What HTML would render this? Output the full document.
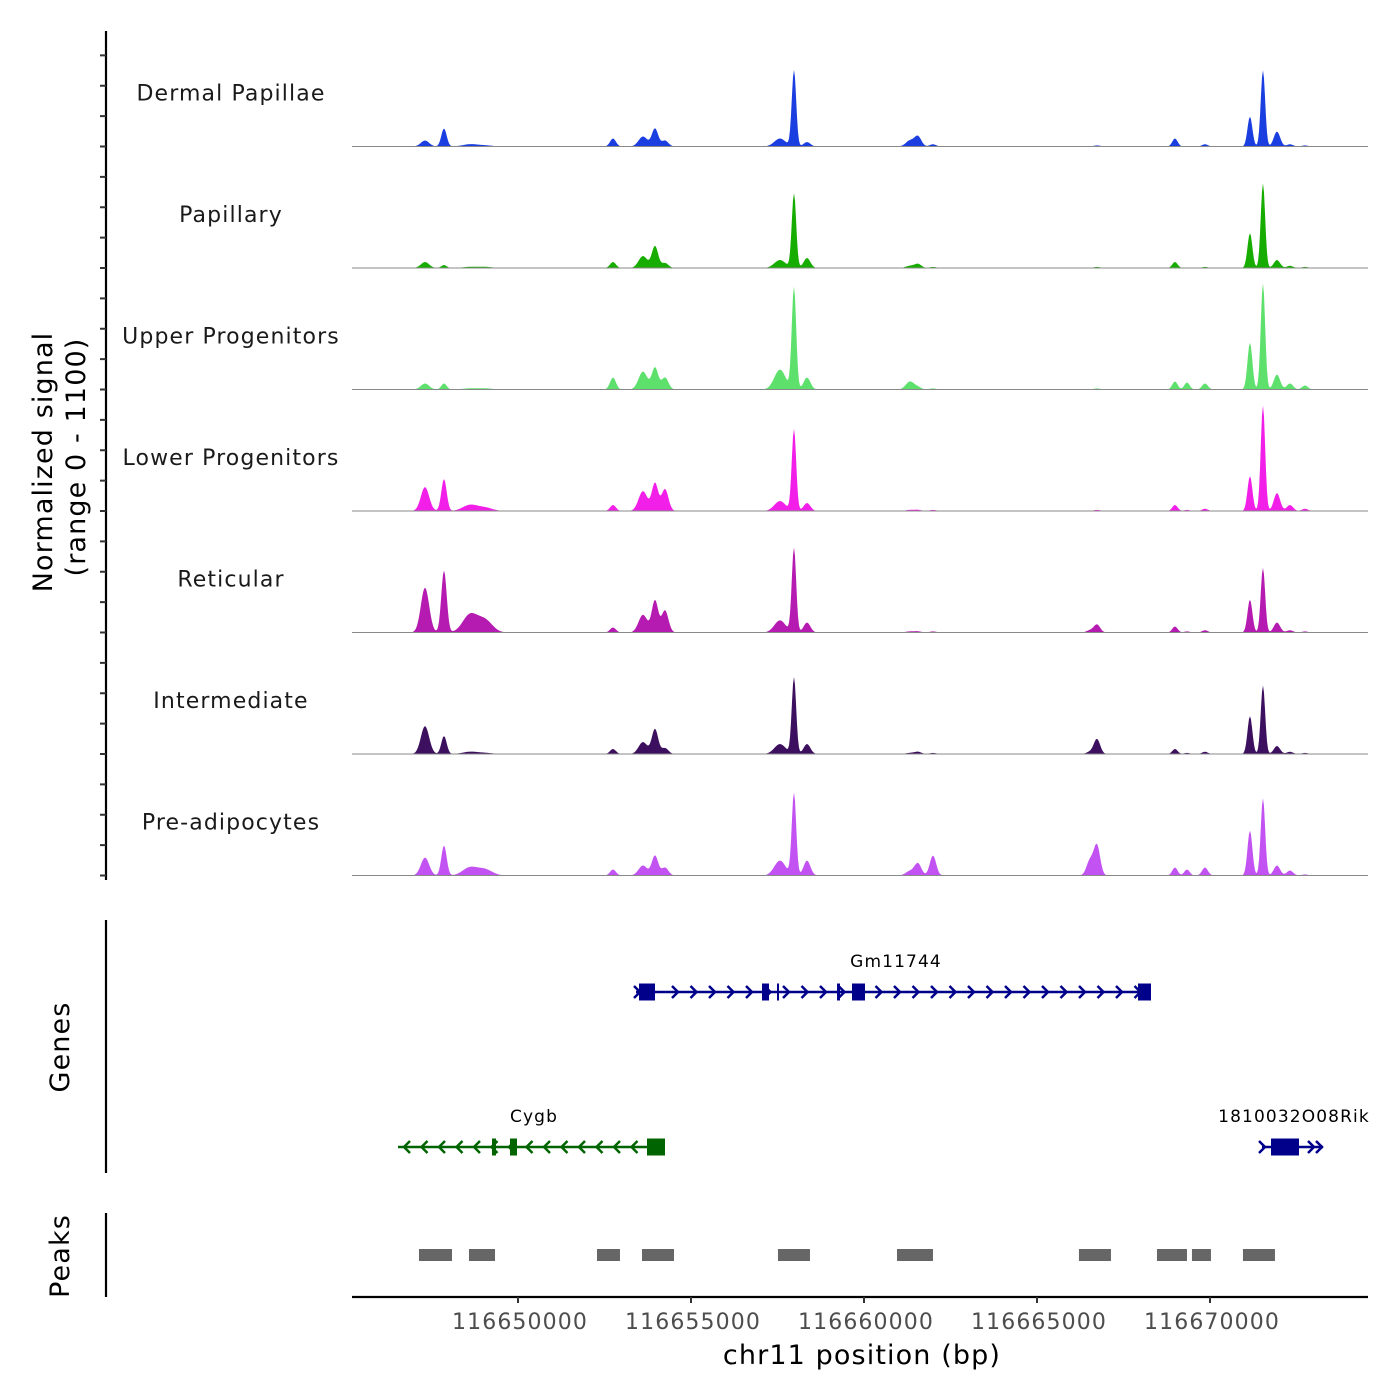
<!DOCTYPE html>
<html><head><meta charset="utf-8"><style>
html,body{margin:0;padding:0;background:#fff;}
svg{display:block;font-family:"DejaVu Sans","Liberation Sans",sans-serif;letter-spacing:0.07em;}
</style></head><body>
<svg id="chart" width="1400" height="1400" viewBox="0 0 1400 1400" xmlns="http://www.w3.org/2000/svg">
<g id="tracks"></g>
<g id="leftaxis"></g>
<text transform="translate(52,462) rotate(-90)" text-anchor="middle" font-size="27" fill="#000">Normalized signal</text>
<text transform="translate(85,457) rotate(-90)" text-anchor="middle" font-size="27" fill="#000">(range 0 - 1100)</text>
<g id="genes"></g>
<line x1="106" y1="920" x2="106" y2="1173" stroke="#000" stroke-width="2.2"/>
<text transform="translate(69,1047) rotate(-90)" text-anchor="middle" font-size="27">Genes</text>
<g id="peaks"></g>
<line x1="106" y1="1213" x2="106" y2="1297" stroke="#000" stroke-width="2.2"/>
<text transform="translate(69,1256) rotate(-90)" text-anchor="middle" font-size="27">Peaks</text>
<g id="xaxis"></g>
<text x="862" y="1364" text-anchor="middle" font-size="27">chr11 position (bp)</text>
</svg>
<script>
const trackNames = ["Dermal Papillae","Papillary","Upper Progenitors","Lower Progenitors","Reticular","Intermediate","Pre-adipocytes"];
const trackColors = ["#1a3ee0","#17ad00","#5ee06c","#f21fe8","#b51bb0","#3d0f5f","#c253f2"];
const peakCenters = [116647312,116647861,116648612,116649046,116652745,116653612,116653959,116654248,116657571,116657976,116658352,116661328,116661559,116661993,116666530,116666733,116668987,116669334,116669854,116671154,116671530,116671935,116672310,116672744];
const peakWidths  = [170,110,300,300,120,180,130,140,230,90,140,170,140,130,140,130,110,110,120,100,90,130,130,120];
const signalDP  = [54,162,20,10,72,90,162,54,72,690,40,54,90,20,0,10,72,0,20,270,690,135,20,10];
const signalPap = [54,27,10,10,54,108,198,45,72,675,90,20,36,10,0,10,54,0,10,315,765,72,20,10];
const signalUP  = [54,54,10,10,108,162,198,108,180,925,108,72,20,10,0,10,72,63,54,423,960,135,54,36];
const signalLP  = [216,288,54,30,54,180,252,198,90,738,72,10,10,10,0,10,54,10,20,315,955,162,54,20];
const signalRet = [405,560,160,110,45,160,290,200,110,765,90,10,10,10,20,72,54,10,20,297,585,90,20,10];
const signalInt = [252,162,20,10,45,108,225,54,90,693,90,10,20,10,20,135,45,10,20,342,620,72,20,10];
const signalPre = [162,270,72,54,54,90,180,72,135,747,135,40,108,180,135,270,72,54,72,405,700,90,45,10];
const trackSignals = [signalDP,signalPap,signalUP,signalLP,signalRet,signalInt,signalPre];
const xTicks = [116650000,116655000,116660000,116665000,116670000];
const peakStarts = [116647138,116648583,116652283,116653583,116657513,116660953,116666212,116668467,116669478,116670952];
const peakEnds   = [116648092,116649335,116652947,116654508,116658438,116661993,116667137,116669334,116670027,116671877];

const NS="http://www.w3.org/2000/svg";
const X0=352,X1=1368,BP0=116645202,BP1=116674566;
const xs=bp=>X0+(bp-BP0)/(BP1-BP0)*(X1-X0);
const TRACK_H=121.5, FIRST_BASE=146.5, YMAX=1100;
const ys=(v,base)=>base - v/YMAX*TRACK_H;
function mk(tag,attrs,parent){const e=document.createElementNS(NS,tag);for(const k in attrs)e.setAttribute(k,attrs[k]);parent.appendChild(e);return e;}

const gT=document.getElementById('tracks');
trackNames.forEach((name,i)=>{
  const base=FIRST_BASE+i*TRACK_H;
  const g=mk('g',{},gT);
  
  
  const vals=trackSignals[i];
  let d='M'+X0+','+base;
  for(let px=X0;px<=X1;px+=1){
    const bp=BP0+(px-X0)/(X1-X0)*(BP1-BP0);
    let v=0;
    for(let k=0;k<peakCenters.length;k++){const z=(bp-peakCenters[k])/peakWidths[k];v+=vals[k]*Math.exp(-z*z);}
    d+=' L'+px+','+ys(v,base).toFixed(2);
  }
  d+=' L'+X1+','+base+' Z';
  const p=mk('path',{d:d,fill:trackColors[i]},g);
  
  
  const bl=mk('line',{x1:X0,x2:X1,y1:base,y2:base,stroke:'#888',"stroke-width":1},g);
  
  
  const t=mk('text',{x:231,y:base-46,"text-anchor":"middle","font-size":22,fill:"#1a1a1a"},g);
  t.textContent=name;
  
  
});

const gA=document.getElementById('leftaxis');
mk('line',{x1:106,x2:106,y1:31,y2:880,stroke:'#000',"stroke-width":2.2},gA);
for(let y=FIRST_BASE-3*TRACK_H/4;y<=880;y+=TRACK_H/4){
  const tk=mk('line',{x1:100,x2:106,y1:y,y2:y,stroke:'#333',"stroke-width":2},gA);
  
  
}

const gG=document.getElementById('genes');
function chevrons(x1,x2,y,dir,col,step){
  for(let x=x1;x<=x2;x+=step){
    mk('polyline',{points:(x-4*dir)+','+(y-6)+' '+(x+2*dir)+','+y+' '+(x-4*dir)+','+(y+6),fill:'none',stroke:col,"stroke-width":2.5},gG);
  }
}
function gene(name,start,end,y,col,dir,exons,labelX){
  mk('line',{x1:start,x2:end,y1:y,y2:y,stroke:col,"stroke-width":2.5},gG);
  if(end-start>100) chevrons(dir>0?start+40:start+8,end-8,y,dir,col,dir>0?18.5:17.5);
  exons.forEach(e=>{mk('rect',{x:e[0],y:y-e[2]/2,width:e[1],height:e[2],fill:col},gG);});
  const t=mk('text',{x:labelX,y:y-25,"text-anchor":"middle","font-size":17,fill:"#000"},gG);
  t.textContent=name;
  
  
}
gene('Gm11744',636,1148,992,'#00008b',1,[[639,16,17],[762,7,17],[777,2,17],[837,3,17],[852,13,17],[1138,13,17]],896);
mk('polyline',{points:'634,986 640,992 634,998',fill:'none',stroke:'#00008b',"stroke-width":2.5},gG);
gene('Cygb',398,665,1147,'#006400',-1,[[492,4,17],[510,7,17],[647,18,17]],534);
gene('1810032O08Rik',1262,1323,1147,'#00008b',1,[[1271,28,17]],1294);
mk('polyline',{points:'1259,1141 1265,1147 1259,1153',fill:'none',stroke:'#00008b',"stroke-width":2.5},gG);
chevrons(1312,1322,1147,1,'#00008b',8);

const gP=document.getElementById('peaks');
peakStarts.forEach((s,i)=>{
  const r=mk('rect',{x:xs(s),y:1249,width:xs(peakEnds[i])-xs(s),height:12,fill:'#666'},gP);
  
  
});

const gX=document.getElementById('xaxis');
mk('line',{x1:X0,x2:X1,y1:1297,y2:1297,stroke:'#000',"stroke-width":2.2},gX);
xTicks.forEach(v=>{
  const x=xs(v);
  const tk=mk('line',{x1:x,x2:x,y1:1297,y2:1303,stroke:'#333',"stroke-width":2},gX);
  
  
  const t=mk('text',{x:x+2,y:1329,"text-anchor":"middle","font-size":22,fill:"#4d4d4d"},gX);
  t.textContent=String(v);
  
  
});
</script>
</body></html>
